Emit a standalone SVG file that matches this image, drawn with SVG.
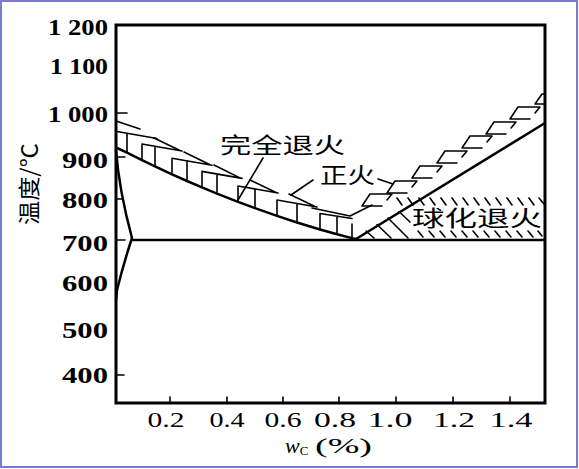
<svg xmlns="http://www.w3.org/2000/svg" width="579" height="469" viewBox="0 0 579 469">
<style>
.ax{fill:none;stroke:#000;stroke-width:3;stroke-linecap:square}
.cv{fill:none;stroke:#000;stroke-width:2.5;stroke-linejoin:round}
.ht{fill:none;stroke:#000;stroke-width:1.6;stroke-linecap:round;stroke-linejoin:round}
.yl{font-family:"Liberation Serif","Times New Roman",serif;font-weight:bold;font-size:23px;text-anchor:end;fill:#000}
.xl{font-family:"Liberation Serif","Times New Roman",serif;font-size:22px;text-anchor:middle;fill:#000}
.cn{font-family:"Noto Sans CJK SC","Noto Sans CJK JP",sans-serif;font-size:22px;fill:#000}
</style>
<rect x="1" y="1" width="576" height="466" fill="#fff" stroke="#7b7bd3" stroke-width="2"/>

<g id="axes">
<path class="ax" d="M116,25 L545,25 L545,403 L116,403 Z"/>
<path class="ht" stroke-width="2" d="M116,113 L127,113 M116,157 L125,157 M116,199 L122,199 M116,240 L125,240 M116,375 L124,375"/>
<path class="ht" stroke-width="2" d="M170,403 V397 M227,403 V397 M283,403 V397 M339,403 V397 M396,403 V397 M453,403 V397 M510,403 V397"/>
</g>

<g id="y-labels">
<text class="yl" x="108" y="35" textLength="60" lengthAdjust="spacingAndGlyphs">1 200</text>
<text class="yl" x="108" y="74" textLength="58" lengthAdjust="spacingAndGlyphs">1 100</text>
<text class="yl" x="108" y="122" textLength="60" lengthAdjust="spacingAndGlyphs">1 000</text>
<text class="yl" x="108" y="168" textLength="46" lengthAdjust="spacingAndGlyphs">900</text>
<text class="yl" x="108" y="208" textLength="46" lengthAdjust="spacingAndGlyphs">800</text>
<text class="yl" x="108" y="251" textLength="46" lengthAdjust="spacingAndGlyphs">700</text>
<text class="yl" x="108" y="291" textLength="46" lengthAdjust="spacingAndGlyphs">600</text>
<text class="yl" x="108" y="338" textLength="46" lengthAdjust="spacingAndGlyphs">500</text>
<text class="yl" x="108" y="383" textLength="46" lengthAdjust="spacingAndGlyphs">400</text>
</g>

<g id="x-labels">
<text class="xl" x="166" y="427" textLength="37" lengthAdjust="spacingAndGlyphs">0.2</text>
<text class="xl" x="227" y="427" textLength="35" lengthAdjust="spacingAndGlyphs">0.4</text>
<text class="xl" x="283" y="427" textLength="37" lengthAdjust="spacingAndGlyphs">0.6</text>
<text class="xl" x="335" y="427" textLength="42" lengthAdjust="spacingAndGlyphs">0.8</text>
<text class="xl" x="390" y="427" textLength="45" lengthAdjust="spacingAndGlyphs">1.0</text>
<text class="xl" x="454" y="427" textLength="42" lengthAdjust="spacingAndGlyphs">1.2</text>
<text class="xl" x="511" y="427" textLength="43" lengthAdjust="spacingAndGlyphs">1.4</text>
<text x="285" y="453" style="font-family:'Liberation Serif',serif;font-size:20px;fill:#000"><tspan font-style="italic" font-size="22">w</tspan><tspan font-size="13" dy="2">C</tspan></text>
<text x="315" y="453" textLength="57" lengthAdjust="spacingAndGlyphs" style="font-family:'Liberation Serif',serif;font-size:20px;fill:#000">(%)</text>
</g>

<g id="y-title">
<text class="cn" x="0" y="0" text-anchor="middle" transform="translate(37,184) rotate(-90)" textLength="82" lengthAdjust="spacingAndGlyphs">温度/℃</text>
</g>

<g id="lines">
<path id="A3" class="cv" d="M116,147.5 L127,152.6 L142,160.1 L155,166.4 L172,174.3 L187,181 L202,187.4 L217,193.6 L238,201.9 L255,208.2 L277,215.9 L297,222.5 L320,229.5 L337,234.2 L352,238.1 L356,239"/>
<path id="Acm" class="cv" d="M356,239 L545,123"/>
<path id="A1" class="cv" d="M132,240 L545,240"/>
<path id="GP" class="cv" d="M116,150 Q119,190 132,238 Q124,262 117,290 L116,300"/>
</g>

<g id="full-anneal-band">
<path class="ht" d="M117,131.5 L157,138.5 M116,121 L140,129 M127,133.2 V152.6"/>
<path class="ht" d="M142,144 V160.1 M142,144 L182,151 M154,138 L180,150.5 M155,146.3 V166.4"/>
<path class="ht" d="M172,158.3 V174.3 M172,158.3 L212,165.3 M184,152 L210,164.8 M187,160.9 V181"/>
<path class="ht" d="M202,171.4 V187.4 M202,171.4 L242,178.4 M214,165 L240,177.9 M217,174 V193.6"/>
<path class="ht" d="M238,186 V201.9 M238,186 L278,193 M250,180 L276,192.5 M255,189 V208.2"/>
<path class="ht" d="M277,200 V215.9 M277,200 L317,207 M289,194 L315,206.5 M297,203.5 V222.5"/>
<path class="ht" d="M320,213.5 V229.5 M320,213.5 L352,218.5 M337,216.2 V234.2 M352,224 V238.1"/>
<path class="ht" d="M312,208 L350,216 L372,205"/>
</g>

<g id="normalize-band">
<path class="ht" d="M392,194 L370,194 L362,206 L382,206 M392,194 L387,200"/>
<path class="ht" d="M417,181 L395,181 L387,193 L407,193 M417,181 L412,187"/>
<path class="ht" d="M442,166 L420,166 L412,178 L432,178 M442,166 L437,172"/>
<path class="ht" d="M467,151 L445,151 L437,163 L457,163 M467,151 L462,157"/>
<path class="ht" d="M492,136 L470,136 L462,148 L482,148 M492,136 L487,142"/>
<path class="ht" d="M516,122 L494,122 L486,134 L506,134 M516,122 L511,128"/>
<path class="ht" d="M540,107 L518,107 L510,119 L530,119 M540,107 L535,113"/>
<path class="ht" d="M545,94 L542,94 L535,104 L545,104"/>
</g>

<g id="spheroidize-band">
<path class="ht" d="M397,198 L402,205 M408,198 L413,205 M419,198 L424,205 M430,198 L435,205 M441,198 L446,205 M452,198 L457,205 M463,198 L468,205 M474,198 L479,205 M485,198 L490,205 M496,198 L501,205 M507,198 L512,205 M518,198 L523,205 M529,198 L534,205 M539,198 L544,204"/>
<path class="ht" d="M418,231 L423,237 M429,231 L434,237 M440,231 L445,237 M451,231 L456,237 M462,231 L467,237 M473,231 L478,237 M484,231 L489,237 M495,231 L500,237 M506,231 L511,237 M517,231 L522,237 M528,231 L533,237 M538,231 L542,236"/>
<path class="ht" d="M366,231 L374,238 M377,224.5 L391,238 M388,218 L408,238 M399,211.5 L410,222"/>
</g>

<g id="labels">
<text class="cn" x="220" y="153" textLength="125" lengthAdjust="spacingAndGlyphs">完全退火</text>
<path class="ht" d="M263,158 L238,200"/>
<text class="cn" x="320" y="183" textLength="55" lengthAdjust="spacingAndGlyphs">正火</text>
<path class="ht" d="M313,180 L291,195 M378,179 L393,184"/>
<text class="cn" x="412" y="226" textLength="130" lengthAdjust="spacingAndGlyphs">球化退火</text>
</g>
</svg>
